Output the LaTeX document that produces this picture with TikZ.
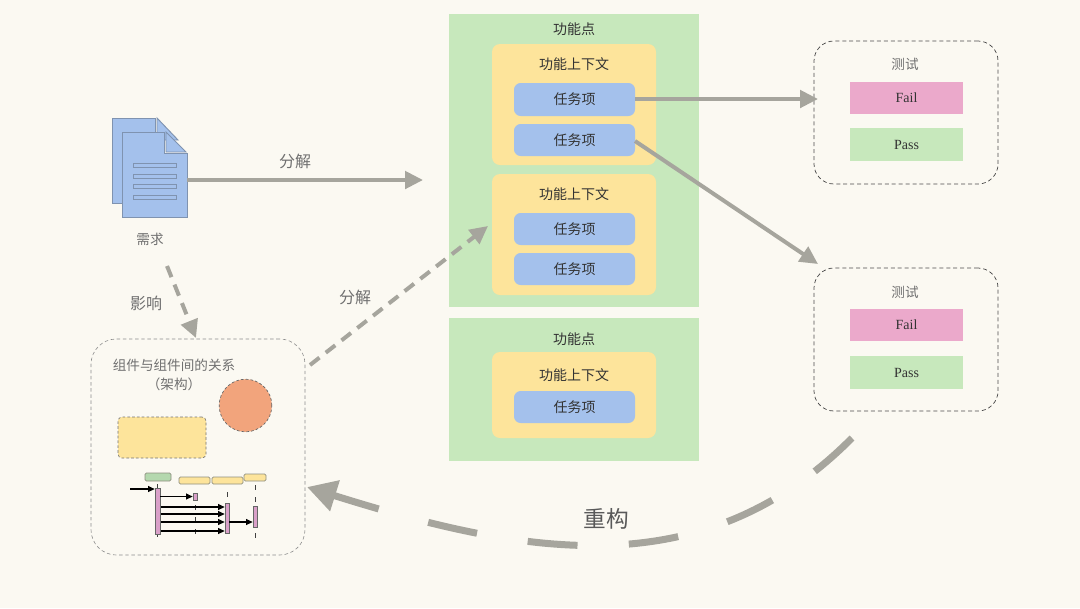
\documentclass[tikz,border=0pt]{standalone}
\usepackage{fontspec}
\setmainfont{Noto Sans CJK SC}
\newfontfamily\latinserif{Liberation Serif}
\usetikzlibrary{arrows.meta,calc}
\definecolor{bgc}{HTML}{FBF9F2}
\definecolor{greenc}{HTML}{C7E8BC}
\definecolor{yellowc}{HTML}{FDE49B}
\definecolor{bluec}{HTML}{A4C1EC}
\definecolor{pinkc}{HTML}{EBA9CB}
\definecolor{orangec}{HTML}{F2A47C}
\definecolor{arrowc}{HTML}{A6A59D}
\definecolor{txtc}{HTML}{333333}
\definecolor{graytxt}{HTML}{707070}
\definecolor{docline}{HTML}{7F93B0}
\definecolor{seqpink}{HTML}{D9A0C8}
\definecolor{seqgreen}{HTML}{B4D8AE}
\definecolor{seqline}{HTML}{8F8F80}
\newcommand{\bx}[7]{\node[#2,anchor=center,inner sep=0pt,minimum width={(#5-#3)*0.75pt},minimum height={(#6-#4)*0.75pt}] (#1) at ({(#3+#5)/2},{(#4+#6)/2}) {#7};}
\tikzset{
  x=0.75pt,y=-0.75pt,
  label14/.style={text=txtc,font=\fontsize{10.5}{12}\selectfont,inner sep=0pt},
  labelgray/.style={text=graytxt,font=\fontsize{10.2}{12}\selectfont,inner sep=0pt},
  featbox/.style={fill=greenc,draw=none,rectangle},
  ctxbox/.style={fill=yellowc,draw=none,rectangle,rounded corners=6pt},
  taskbox/.style={fill=bluec,draw=none,rectangle,rounded corners=5pt,label14},
  testbox/.style={draw=black!70,dash pattern=on 3pt off 2.2pt,line width=0.55pt,rectangle,rounded corners=15pt},
  failbox/.style={fill=pinkc,rectangle,text=txtc,font=\latinserif\fontsize{10.5}{12}\selectfont},
  passbox/.style={fill=greenc,rectangle,text=txtc,font=\latinserif\fontsize{10.5}{12}\selectfont},
  flow/.style={draw=arrowc,line width=3pt,-{Triangle[length=13.5pt,width=13pt]}},
  dashflow/.style={flow,dash pattern=on 9pt off 6pt},
  seqhead/.style={rectangle,rounded corners=1pt,draw=seqline,line width=0.5pt},
  seqbar/.style={rectangle,fill=seqpink,draw=black!60,line width=0.5pt},
  seqarrow/.style={draw=black,line width=0.85pt,-{Triangle[length=5pt,width=4.5pt]}},
  lifeline/.style={draw=black!75,line width=0.75pt,dash pattern=on 4pt off 5pt},
  docpage/.style={fill=bluec,draw=docline,line width=0.7pt},
}
\begin{document}
\begin{tikzpicture}
\useasboundingbox (0,0) rectangle (1080,608);
\fill[bgc] (0,0) rectangle (1080,608);

% feature 1
\bx{fp1}{featbox}{449}{14}{699}{307}{}
\node[label14] (fp1t) at (574,29) {功能点};
\bx{ctx1}{ctxbox}{492}{44}{656}{165}{}
\node[label14] (ctx1t) at (574,64) {功能上下文};
\bx{task1}{taskbox}{514}{83}{635}{116}{任务项}
\bx{task2}{taskbox}{514}{124}{635}{156}{任务项}
\bx{ctx2}{ctxbox}{492}{174}{656}{295}{}
\node[label14] (ctx2t) at (574,194) {功能上下文};
\bx{task3}{taskbox}{514}{213}{635}{245}{任务项}
\bx{task4}{taskbox}{514}{253}{635}{285}{任务项}
% feature 2
\bx{fp2}{featbox}{449}{318}{699}{461}{}
\node[label14] (fp2t) at (574,339) {功能点};
\bx{ctx3}{ctxbox}{492}{352}{656}{438}{}
\node[label14] (ctx3t) at (574,375) {功能上下文};
\bx{task5}{taskbox}{514}{391}{635}{423}{任务项}

% tests
\bx{test1}{testbox}{814}{41}{998}{184}{}
\node[labelgray] (test1t) at (905,64) {测试};
\bx{fail1}{failbox}{850}{82}{963}{114}{Fail}
\bx{pass1}{passbox}{850}{128}{963}{161}{Pass}
\bx{test2}{testbox}{814}{268}{998}{411}{}
\node[labelgray] (test2t) at (905,292) {测试};
\bx{fail2}{failbox}{850}{309}{963}{341}{Fail}
\bx{pass2}{passbox}{850}{356}{963}{389}{Pass}

% document icon
\path[docpage] (112,118) -- (155,118) -- (155,132) -- (122,132) -- (122,203) -- (112,203) -- cycle;
\path[docpage] (157,118) -- (178,140) -- (157,140) -- cycle;
\path[docpage] (122,132) -- (164,132) -- (164,153) -- (187,153) -- (187,217) -- (122,217) -- cycle;
\path[docpage] (166,132) -- (186,152) -- (166,152) -- cycle;
\foreach \yy in {163,174,184,195}
  \path[docpage] (133,\yy) rectangle (176,\yy+4);
\node[inner sep=0pt,minimum width=56.25pt,minimum height=74.25pt] (doc) at (149.5,167.5) {};
\node[labelgray] (doct) at (150,239) {需求};

% architecture box
\bx{arch}{draw=black!45,dash pattern=on 2.6pt off 2pt,line width=0.45pt,rectangle,rounded corners=19pt}{91}{339}{305}{555}{}
\node[labelgray] (archt1) at (174,365) {组件与组件间的关系};
\node[labelgray] (archt2) at (174,384) {（架构）};
\node[circle,fill=orangec,draw=black!60,dash pattern=on 2pt off 1.6pt,line width=0.5pt,inner sep=0pt,minimum size=39.5pt] (circ) at (245.5,405.5) {};
\bx{yrect}{fill=yellowc,draw=black!55,dash pattern=on 2pt off 1.6pt,line width=0.5pt,rectangle,rounded corners=3pt}{118}{417}{206}{458}{}

% sequence diagram
\bx{h1}{seqhead,fill=seqgreen}{145}{473}{171}{481}{}
\bx{h2}{seqhead,fill=yellowc}{179}{477}{210}{484}{}
\bx{h3}{seqhead,fill=yellowc}{212}{477}{243}{484}{}
\bx{h4}{seqhead,fill=yellowc}{244}{474}{266}{481}{}
\coordinate (l1) at (157,484);
\coordinate (l1b) at (157,538);
\coordinate (l2) at (195,505);
\coordinate (l2b) at (195,538);
\coordinate (l3) at (227,492);
\coordinate (l3b) at (227,538);
\coordinate (l4) at (255,485);
\coordinate (l4b) at (255,538);
\draw[lifeline] (l1) -- (l1b);
\draw[lifeline] (l2) -- (l2b);
\draw[lifeline] (l3) -- (l3b);
\draw[lifeline] (l4) -- (l4b);
\bx{a1}{seqbar}{155}{488}{160}{534}{}
\bx{a2}{seqbar}{193}{493}{197}{500}{}
\bx{a3}{seqbar}{225}{503}{229}{533}{}
\bx{a4}{seqbar}{253}{506}{257}{527}{}
\coordinate (s0) at (130,489);
\draw[seqarrow] (s0) -- (a1.west |- s0);
\draw[seqarrow] (a1.east |- a2.west) -- (a2.west);
\foreach \yy in {507,514,522,531}
  \draw[seqarrow] ($(a1.east |- 0,\yy)+(1,0)$) -- (a3.west |- 0,\yy);
\draw[seqarrow] (a3.east |- 0,522) -- (a4.west |- 0,522);

% connectors
\coordinate (p1) at (423,180);
\draw[flow] (doc.east |- p1) -- (p1);
\node[label14,text=graytxt,font=\fontsize{12}{14}\selectfont] (lb1) at (295,161) {分解};
\coordinate (q0) at (167,266);
\coordinate (q1) at (196,338);
\draw[dashflow] (q0) -- (q1);
\node[labelgray,font=\fontsize{12}{14}\selectfont] (lb2) at (146,303) {影响};
\coordinate (r0) at (310,365);
\coordinate (r1) at (488,226);
\draw[dashflow] (r0) -- (r1);
\node[labelgray,font=\fontsize{12}{14}\selectfont] (lb3) at (355,297) {分解};
\coordinate (t1) at (818,99);
\draw[flow] (task1.east |- t1) -- (t1);
\coordinate (t2) at (818,264);
\coordinate (t2s) at (635,141);
\draw[flow] (t2s) -- (t2);

% refactor arc
\coordinate (b0) at (852,438);
\coordinate (b1) at (703,588);
\coordinate (b2) at (524,555);
\coordinate (b3) at (307,487);
\draw[draw=arrowc,line width=5.25pt,dash pattern=on 37.5pt off 38.5pt,-{Triangle[length=22pt,width=23pt]}] (b0) .. controls (b1) and (b2) .. (b3);
\node[labelgray,font=\fontsize{17}{20}\selectfont,text=black!65] (lb4) at (606,519) {重构};
\end{tikzpicture}
\end{document}
